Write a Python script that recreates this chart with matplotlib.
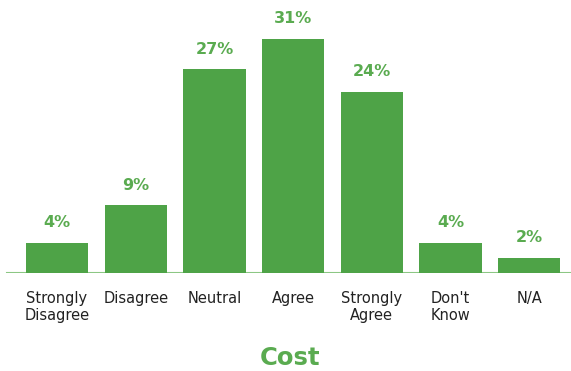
import matplotlib.pyplot as plt

categories = ["Strongly\nDisagree", "Disagree", "Neutral", "Agree",
              "Strongly\nAgree", "Don't\nKnow", "N/A"]
percent = [4, 9, 27, 31, 24, 4, 2]

bar_color = "#4ea347"
text_color = "#5aab50"

fig = plt.figure(figsize=(5.71, 3.71), dpi=100)
# axes placed so the baseline sits at y=273px
ax = fig.add_axes([0.0, (371 - 273) / 371, 1.0, (273 - 10) / 371])

x = list(range(len(categories)))
ax.bar(x, percent, width=0.79, color=bar_color, zorder=2)
ax.set_xlim(-0.725, 6.53)
ax.set_ylim(0, (273 - 10) / 7.55)

# light baseline under the bars
ax.axhline(0, xmin=(7 / 571), xmax=1, color="#8cc784", lw=1.5, zorder=1)

for xi, v in zip(x, percent):
    ax.annotate(f"{v}%", (xi, v), xytext=(0, 9), textcoords="offset points",
                ha="center", va="bottom", fontsize=11.5, fontweight="bold",
                color=text_color)

ax.set_xticks(x)
ax.set_xticklabels(categories, fontsize=10.5, color="#222222", linespacing=1.2)
ax.tick_params(axis="x", length=0, pad=13)
ax.set_yticks([])
for s in ax.spines.values():
    s.set_visible(False)

fig.text(0.508, 1 - 358 / 371, "Cost", ha="center", va="center",
         fontsize=17.5, fontweight="bold", color=text_color)

fig.savefig("out.png", dpi=100)
